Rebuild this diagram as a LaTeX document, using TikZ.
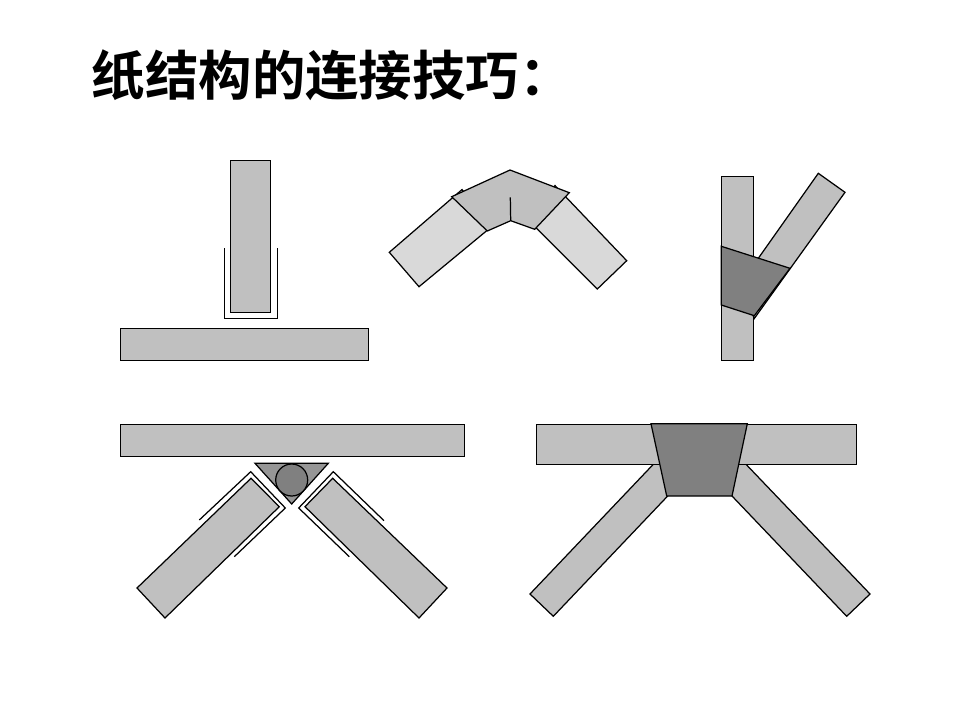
\documentclass[tikz,border=0pt]{standalone}
\usepackage{fontspec}
\usepackage{xcolor}
\newfontfamily\cjk{Noto Sans CJK SC}[BoldFont={Noto Sans CJK SC Bold}]

\begin{document}
\begin{tikzpicture}[x=0.02cm,y=-0.02cm,line join=miter,
        board/.style={draw=black,fill=boardgray,line width=0.7pt},
        lightboard/.style={draw=black,fill=lightgray,line width=0.7pt},
        joint/.style={draw=black,fill=jointgray,line width=0.7pt},
        sleeve/.style={draw=black,line width=0.7pt}]
        % Define colors - the greys of the paper pieces
        \definecolor{boardgray}{RGB}{192,192,192}
        \definecolor{lightgray}{RGB}{217,217,217}
        \definecolor{jointgray}{RGB}{128,128,128}
        \definecolor{wedgegray}{RGB}{150,150,150}

        \useasboundingbox (0,0) rectangle (960,720);

        % Title
        \node[font=\cjk\bfseries\fontsize{30.4}{36}\selectfont,anchor=west,inner sep=0pt] (title) at (91.5,75) {纸结构的连接技巧：};

        % 1. Upright board in a U sleeve above a base board
        \draw[board] (230.3,160.3) rectangle (270.3,312.3);
        \draw[sleeve] (224.3,248.3) -- (224.3,318.3) -- (277.3,318.3) -- (277.3,248.3);
        \draw[board] (120.3,328.3) rectangle (368.3,360.3);

        % 2. Two boards under a folded cap (their corners just show past it)
        \draw[lightboard] (462,189.6) -- (389.3,252.3) -- (419,286.7) -- (491.7,226.6) -- cycle;
        \draw[lightboard] (555,185.6) -- (626.7,260.7) -- (597.3,289) -- (526.3,218) -- cycle;
        \draw[board] (451.7,196.7) -- (510,170) -- (569.3,192.7) -- (534.7,229.3) -- (510.7,220.7) -- (487.3,231) -- cycle;
        \draw[sleeve] (510.3,197.3) -- (510.7,220.7);

        % 3. Branch on an upright board with a wedge
        \draw[board] (721.3,176.3) rectangle (753.3,360.3);
        \draw[board] (818.3,173.3) -- (845,192.3) -- (754.3,318.5) -- (753.3,316) -- (758.3,258.3) -- cycle;
        \draw[joint] (721.3,246.3) -- (790,268.3) -- (754.3,315.7) -- (721.3,305) -- cycle;

        % 4. Two sleeved legs, triangle and round rod under a board
        \draw[board] (120.3,424.3) rectangle (464.3,456.3);
        \draw[joint,fill=wedgegray] (255,463.3) -- (328.3,463.3) -- (291.7,504) -- cycle;
        \draw[joint] (291.7,480) circle (16);
        \draw[board] (251,478.3) -- (279.3,506.7) -- (165,618) -- (137,588) -- cycle;
        \draw[board] (332.7,478.3) -- (305,506.7) -- (419,618) -- (447,588) -- cycle;
        \draw[sleeve] (199.3,520) -- (250.7,471.7) -- (285.3,508) -- (234.3,556.7);
        \draw[sleeve] (384,520.7) -- (333.3,471.7) -- (298.7,508) -- (349.3,556.7);

        % 5. Two legs meeting a board in a trapezoid block
        \draw[board] (653.3,464.3) -- (530,594) -- (553.3,616.3) -- (667.7,496) -- (665,464.3) -- cycle;
        \draw[board] (746,464.3) -- (870,594) -- (846.7,616.3) -- (732,496) -- (735,464.3) -- cycle;
        \draw[board] (536.3,424.3) rectangle (856.3,464.3);
        \draw[joint] (651,423.7) -- (747.3,423.7) -- (732,496) -- (666.7,496) -- cycle;
    \end{tikzpicture}
\end{document}
